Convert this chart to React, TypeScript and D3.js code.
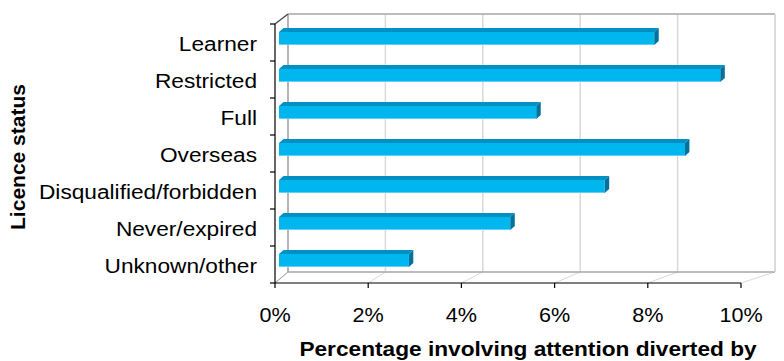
import React from "react";
import * as d3 from "d3";

const categories = [
  "Learner",
  "Restricted",
  "Full",
  "Overseas",
  "Disqualified/forbidden",
  "Never/expired",
  "Unknown/other",
];
const values = [7.95, 9.35, 5.45, 8.6, 6.9, 4.9, 2.75];
const xTicks = [0, 2, 4, 6, 8, 10];
const xTickLabels = ["0%", "2%", "4%", "6%", "8%", "10%"];
const yTitle = "Licence status";
const xTitle = "Percentage involving attention diverted by";

const W = 784;
const H = 361;
const FONT = "Arial, 'Liberation Sans', sans-serif";
const SX = 1.08;

export default function App() {
  const xFront = d3.scaleLinear().domain([0, 10]).range([275, 741]);
  const xBack = d3.scaleLinear().domain([0, 10]).range([288, 775]);
  const xBar = d3.scaleLinear().domain([0, 10]).range([279, 751]);
  const yFront = d3.scaleBand<string>().domain(categories).range([24, 283]).paddingInner(0).paddingOuter(0);
  const yBackTop = 14;
  const yBackBottom = 272;
  const frontTop = 24;
  const frontBottom = 283;
  const bdx = 4.5;
  const bdy = -4;
  const faceH = 13;

  const bars = categories.map((c, i) => {
    const cy = (yFront(c) as number) + yFront.bandwidth() / 2;
    const top = cy - 10.5;
    const x0 = xBar(0);
    const x1 = xBar(values[i]);
    return { c, top, x0, x1, cy };
  });

  const bounds = d3.range(categories.length + 1).map(
    (i) => frontTop + i * yFront.bandwidth()
  );

  return (
    <svg width={W} height={H} style={{ position: "absolute", left: 0, top: 0 }}>
      <rect x={0} y={0} width={W} height={H} fill="#ffffff" />
      {xTicks.map((t) => (
        <line key={"g" + t} x1={xBack(t)} x2={xBack(t)} y1={yBackTop} y2={yBackBottom} stroke="#d9d9d9" strokeWidth={1.5} />
      ))}
      {xTicks.map((t) => (
        <line key={"f" + t} x1={xBack(t)} x2={xFront(t)} y1={yBackBottom} y2={frontBottom} stroke="#d9d9d9" strokeWidth={1} />
      ))}
      <line x1={xBack(0)} x2={xBack(10)} y1={yBackTop} y2={yBackTop} stroke="#a6a6a6" strokeWidth={1.5} />
      <line x1={xBack(0)} x2={xBack(10)} y1={yBackBottom} y2={yBackBottom} stroke="#a6a6a6" strokeWidth={1.5} />
      <line x1={xBack(0)} x2={xBack(0)} y1={yBackTop} y2={yBackBottom} stroke="#a6a6a6" strokeWidth={1.5} />
      <line x1={xBack(10)} x2={xBack(10)} y1={yBackTop} y2={yBackBottom} stroke="#d9d9d9" strokeWidth={1.5} />
      <line x1={xFront(0)} y1={frontTop} x2={xBack(0)} y2={yBackTop} stroke="#404040" strokeWidth={1.2} />
      <line x1={xFront(0)} y1={frontBottom} x2={xBack(0)} y2={yBackBottom} stroke="#a0a0a0" strokeWidth={1} />

      {bars.map((b) => (
        <g key={b.c}>
          <polygon
            points={`${b.x0},${b.top} ${b.x0 + bdx},${b.top + bdy} ${b.x1 + bdx},${b.top + bdy} ${b.x1},${b.top}`}
            fill="#0090c4"
          />
          <rect x={b.x0} y={b.top} width={b.x1 - b.x0} height={faceH} fill="#00b6ef" />
          <line x1={b.x0} x2={b.x1} y1={b.top + faceH - 0.5} y2={b.top + faceH - 0.5} stroke="#5fd0f5" strokeWidth={1} />
          <polygon
            points={`${b.x1},${b.top} ${b.x1 + bdx},${b.top + bdy} ${b.x1 + bdx},${b.top + faceH + bdy} ${b.x1},${b.top + faceH}`}
            fill="#00729c"
          />
        </g>
      ))}

      <line x1={xFront(0)} x2={xFront(0)} y1={frontTop} y2={frontBottom} stroke="#000" strokeWidth={1.2} />
      {bounds.map((y, i) => (
        <line key={"yt" + i} x1={xFront(0) - 5} x2={xFront(0)} y1={y} y2={y} stroke="#000" strokeWidth={1.2} />
      ))}
      <line x1={xFront(0)} x2={xFront(10)} y1={frontBottom} y2={frontBottom} stroke="#000" strokeWidth={1.2} />
      {xTicks.map((t) => (
        <line key={"xt" + t} x1={xFront(t)} x2={xFront(t)} y1={frontBottom} y2={frontBottom + 5} stroke="#000" strokeWidth={1.2} />
      ))}

      {bars.map((b) => (
        <text
          key={"l" + b.c}
          transform={`translate(257,${b.cy + 8}) scale(${SX},1)`}
          textAnchor="end"
          fontFamily={FONT}
          fontSize={21}
          fill="#000"
        >
          {b.c}
        </text>
      ))}
      {xTicks.map((t, i) => (
        <text
          key={"xl" + t}
          transform={`translate(${xFront(t)},322) scale(${SX},1)`}
          textAnchor="middle"
          fontFamily={FONT}
          fontSize={20}
          fill="#000"
        >
          {xTickLabels[i]}
        </text>
      ))}
      <text
        transform={`translate(528,356) scale(${SX},1)`}
        textAnchor="middle"
        fontFamily={FONT}
        fontSize={21}
        fontWeight="bold"
        fill="#000"
      >
        {xTitle}
      </text>
      <text
        transform={`translate(25,157) rotate(-90)`}
        textAnchor="middle"
        fontFamily={FONT}
        fontSize={21}
        fontWeight="bold"
        fill="#000"
      >
        {yTitle}
      </text>
    </svg>
  );
}
